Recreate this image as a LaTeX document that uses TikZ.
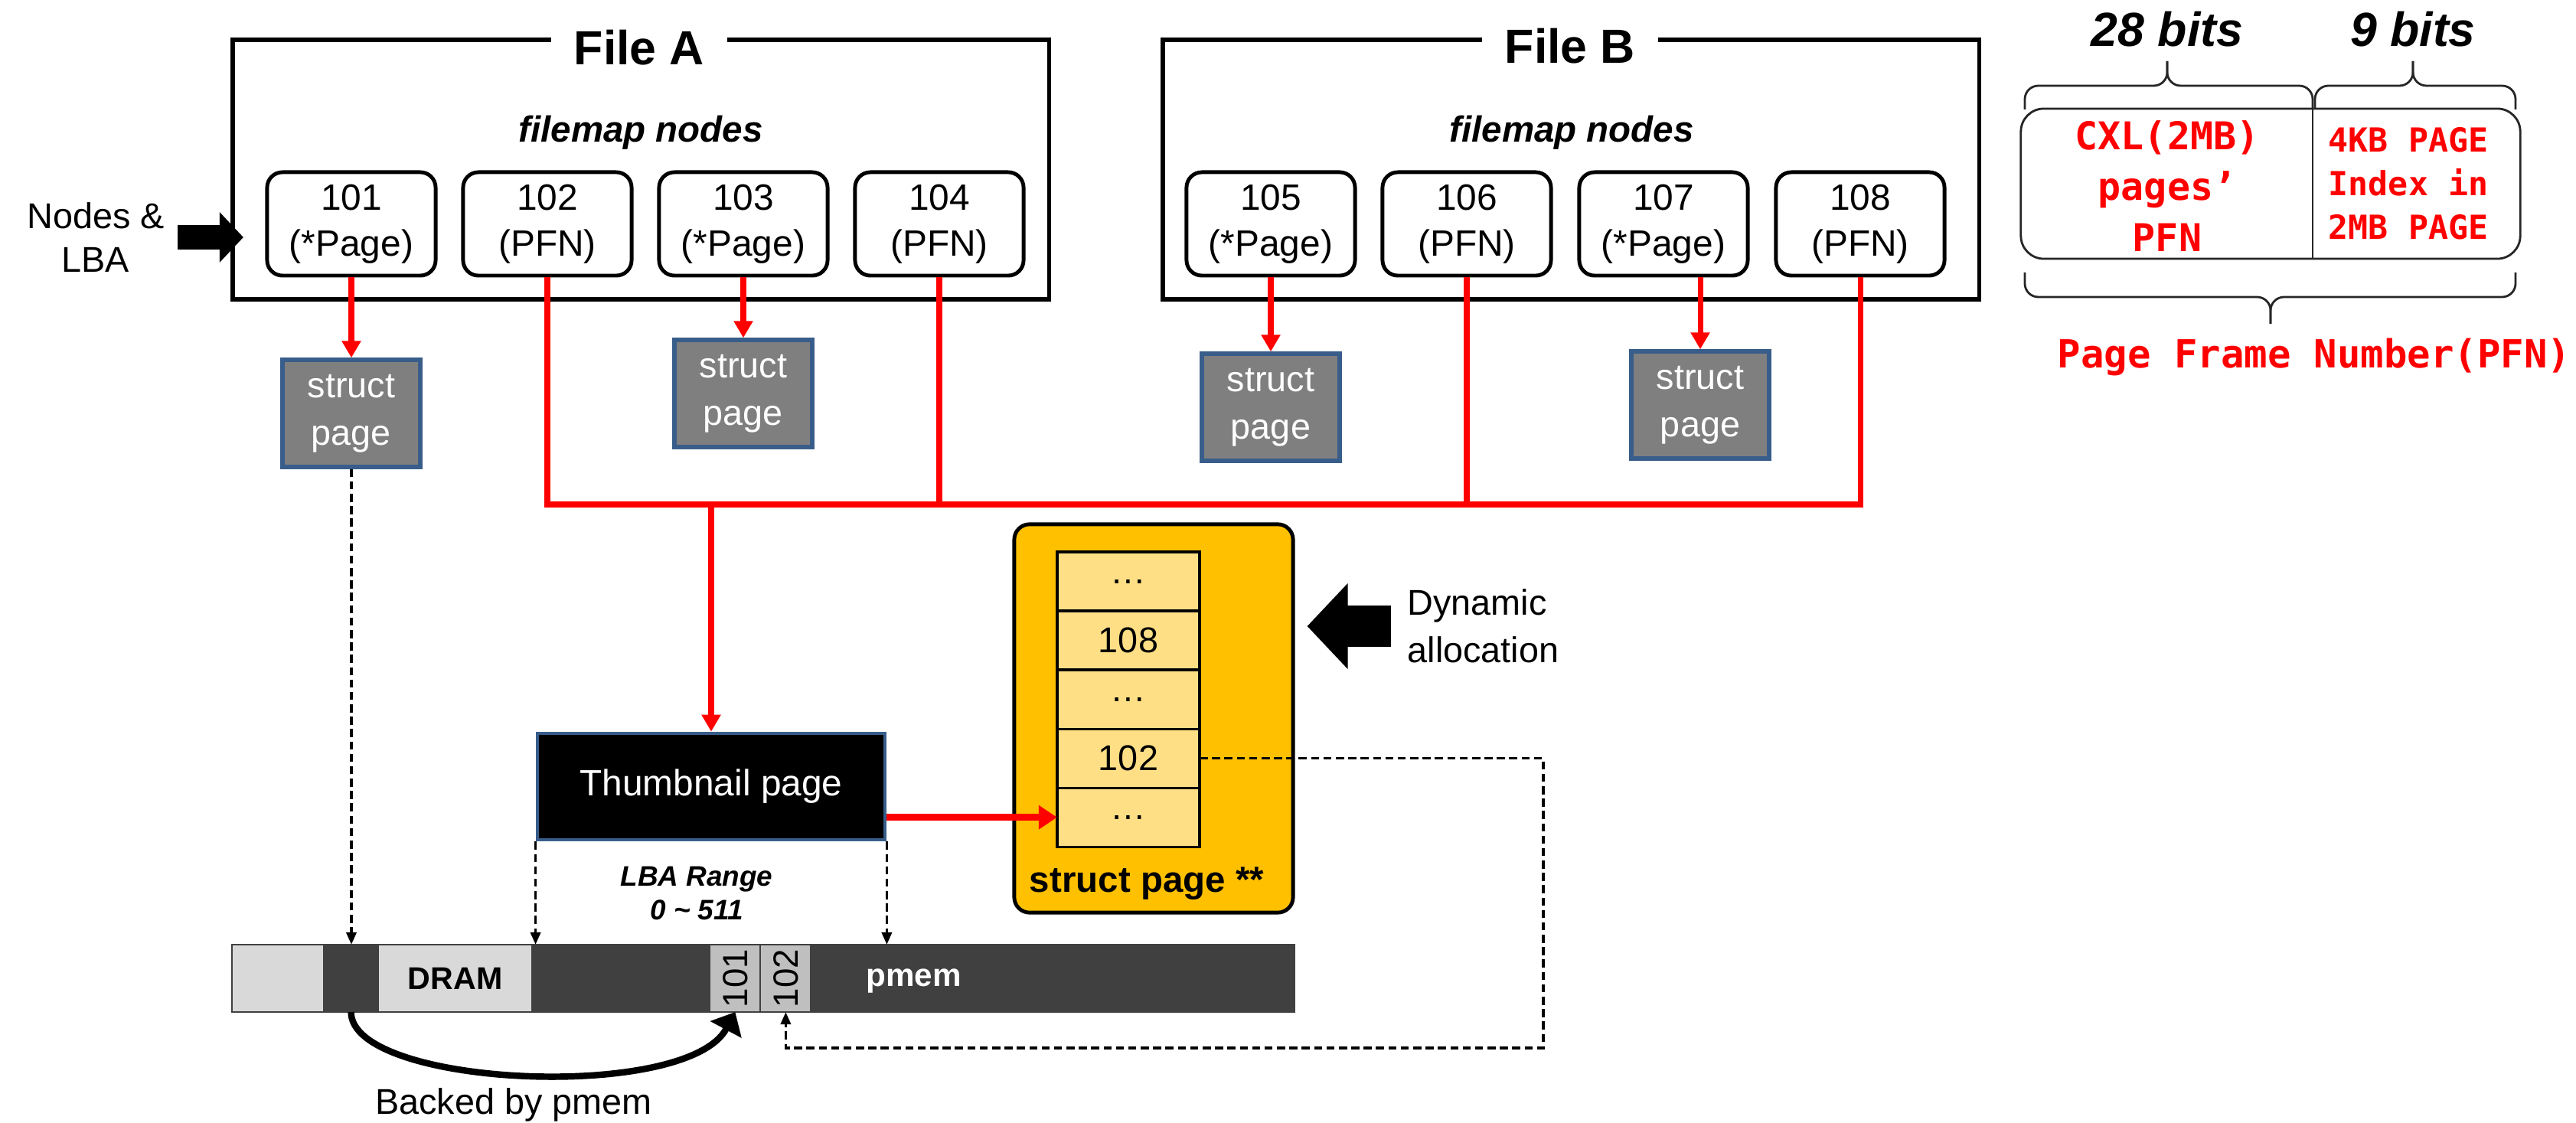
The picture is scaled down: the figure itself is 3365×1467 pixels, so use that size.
\documentclass[tikz,border=0pt]{standalone}
\usepackage{fontspec}
\setmainfont{Liberation Sans}
\setmonofont{DejaVu Sans Mono}
\usetikzlibrary{arrows.meta,positioning,calc}

\begin{document}
\begin{tikzpicture}[x=0.01cm, y=-0.01cm, font=\fontsize{13.3}{17.6}\selectfont,
  filebox/.style={draw=black, line width=1.6pt, minimum width=10.66cm, minimum height=3.39cm, inner sep=0pt},
  ftitle/.style={fill=white, font=\fontsize{17.8}{20}\selectfont\bfseries, inner xsep=0.3cm, inner ysep=0pt},
  fmap/.style={font=\fontsize{13.5}{16}\selectfont\bfseries\itshape},
  fnode/.style={draw=black, line width=1.4pt, rounded corners=0.2cm, fill=white, minimum width=2.2cm, minimum height=1.35cm, align=center, inner sep=0pt, font=\fontsize{13.6}{17}\selectfont},
  spage/.style={draw=zBlu, fill=zGry, line width=1.5pt, text=white, minimum width=1.8cm, minimum height=1.4cm, align=center, inner sep=0pt},
  redln/.style={draw=red, line width=2pt},
  redarr/.style={redln, -{Triangle[length=0.22cm,width=0.24cm]}},
  dasharr/.style={draw=black, line width=1pt, dash pattern=on 3pt off 1.6pt, -{Triangle[length=0.16cm,width=0.13cm]}},
  barseg/.style={draw=black!75, line width=0.6pt, minimum height=0.88cm, inner sep=0pt, outer sep=0pt},
  slotbox/.style={draw=black, line width=0.9pt, fill=zRow, minimum width=1.86cm, minimum height=0.77cm, inner sep=0pt, outer sep=0pt},
  brc/.style={draw=black!85, line width=0.8pt, rounded corners=5pt},
  bits/.style={font=\fontsize{17.8}{20}\selectfont\bfseries\itshape},
]
\definecolor{zGry}{HTML}{7F7F7F}\definecolor{zBlu}{HTML}{385D8A}
\definecolor{zYel}{HTML}{FFC000}\definecolor{zRow}{HTML}{FFDF85}
\definecolor{zDrk}{HTML}{404040}\definecolor{zLgt}{HTML}{D9D9D9}\definecolor{zMid}{HTML}{BFBFBF}
\useasboundingbox (0,0) rectangle (3365,1467);
% ---- file A ----
\node[filebox] (fileA) at (837,221.5) {};
\node[ftitle] (titleA) at (835,62) {File A};
\node[fmap] (mapA) at (837,173) {filemap nodes};
\node[fnode] (n101) at (459,292.5) {101\\(*Page)};
\node[fnode] (n102) at (715,292.5) {102\\(PFN)};
\node[fnode] (n103) at (971,292.5) {103\\(*Page)};
\node[fnode] (n104) at (1227,292.5) {104\\(PFN)};
\node[align=center, font=\fontsize{13.3}{16.2}\selectfont] (nlba) at (125,310) {Nodes \&\\LBA};
\draw[line width=0.31cm, -{Triangle[length=0.31cm,width=0.64cm]}] ([xshift=0.05cm]nlba.east) -- ($(fileA.west |- nlba)+(17,0)$);
% ---- file B ----
\node[filebox] (fileB) at (2052,221.5) {};
\node[ftitle] (titleB) at (2051,60) {File B};
\node[fmap] (mapB) at (2053,173) {filemap nodes};
\node[fnode] (n105) at (1660,292.5) {105\\(*Page)};
\node[fnode] (n106) at (1916,292.5) {106\\(PFN)};
\node[fnode] (n107) at (2173,292.5) {107\\(*Page)};
\node[fnode] (n108) at (2430,292.5) {108\\(PFN)};
% struct pages
\node[spage] (s101) at (459,540) {struct\\page};
\node[spage] (s103) at (971,514) {struct\\page};
\node[spage] (s105) at (1660,532) {struct\\page};
\node[spage] (s107) at (2221,529) {struct\\page};
\draw[redarr] (n101.south) -- (s101.north);
\draw[redarr] (n103.south) -- (s103.north);
\draw[redarr] (n105.south) -- (s105.north);
\draw[redarr] (s107.north |- n107.south) -- (s107.north);
% ---- PFN bus ----
\node[draw=zBlu, fill=black, line width=1.3pt, text=white, minimum width=4.54cm, minimum height=1.39cm, inner sep=0pt, font=\fontsize{13.6}{16}\selectfont] (thumb) at (929,1027.5) {Thumbnail page};
\coordinate (bus) at (929,659);
\draw[redln] (n102.south) |- (n108.south |- bus) -- (n108.south);
\draw[redln] (n104.south) -- (n104.south |- bus);
\draw[redln] (n106.south) -- (n106.south |- bus);
\draw[redarr] (bus) -- (thumb.north);
% ---- struct page pool ----
\node[draw=black, line width=1.4pt, fill=zYel, rounded corners=0.2cm, minimum width=3.64cm, minimum height=5.07cm] (pool) at (1507,938.5) {};
\node[slotbox] (r1) at (1474,759.5) {\ldots};
\node[slotbox, below=0pt of r1] (r2) {108};
\node[slotbox, below=0pt of r2] (r3) {\ldots};
\node[slotbox, below=0pt of r3] (r4) {102};
\node[slotbox, below=0pt of r4] (r5) {\ldots};
\node[font=\fontsize{13.5}{16}\selectfont\bfseries] (poolname) at (1498,1154) {struct page **};
\node[anchor=west, align=left, inner sep=0pt] (dyn) at (1838,818) {Dynamic\\allocation};
\draw[line width=0.53cm, -{Triangle[length=0.53cm,width=1.09cm]}] ([xshift=-0.21cm]dyn.west) -- ($(pool.east |- dyn.west)+(16,0)$);
\draw[draw=red, line width=2.4pt, -{Triangle[length=0.24cm,width=0.3cm]}] (thumb.east |- r5.west) -- (r5.west);
% ---- memory bar ----
\node[barseg, fill=zLgt, minimum width=1.2cm, anchor=west] (b0) at (303,1278) {};
\node[barseg, fill=zDrk, minimum width=0.71cm, right=0pt of b0] (b1) {};
\node[barseg, fill=zLgt, minimum width=2.01cm, right=0pt of b1, font=\fontsize{11.7}{14}\selectfont\bfseries] (b2) {DRAM};
\node[barseg, fill=zDrk, minimum width=2.32cm, right=0pt of b2] (b3) {};
\node[barseg, fill=zMid, minimum width=0.66cm, right=0pt of b3] (b4) {};
\node[barseg, fill=zMid, minimum width=0.66cm, right=0pt of b4] (b5) {};
\node[barseg, fill=zDrk, minimum width=6.31cm, right=0pt of b5] (b6) {};
\node[rotate=90, font=\fontsize{13}{15}\selectfont] (t101) at (b4) {101};
\node[rotate=90, font=\fontsize{13}{15}\selectfont] (t102) at (b5) {102};
\node[text=white, font=\fontsize{12}{14}\selectfont\bfseries] (pmem) at ($(b6.west)+(134,3)$) {pmem};
\node[align=center, font=\fontsize{10.5}{12.5}\selectfont\bfseries\itshape] (lba) at (910,1167) {LBA Range\\0 \textasciitilde{} 511};
\draw[dasharr] (s101.south) -- (s101.south |- b1.north);
\draw[dasharr] (thumb.south west) -- (thumb.south west |- b3.north);
\draw[dasharr] (thumb.south east) -- (thumb.south east |- b6.north);
\coordinate (dcorner) at (2016,1369);
\draw[dasharr] (r4.east) -| (dcorner) -| (b5.south);
\draw[line width=2.4pt, -{Triangle[length=0.26cm,width=0.45cm]}] (b1.south) .. controls +(0,98) and +(-63,118) .. (b4.south);
\node (backed) at (671,1443) {Backed by pmem};
% ---- PFN layout ----
\node[bits] (bits28) at (2831,38) {28 bits};
\node[bits] (bits9) at (3152,38) {9 bits};
\node[draw=black!85, line width=0.8pt, rounded corners=0.3cm, minimum width=6.52cm, minimum height=1.96cm] (pfnbox) at (2966,240) {};
\coordinate (split) at (3021,240);
\draw[draw=black!85, line width=0.8pt] (split |- pfnbox.north) -- (split |- pfnbox.south);
\node[text=red, align=center, font=\fontsize{14.2}{19}\selectfont\ttfamily\bfseries] (hibits) at (2831,243) {CXL(2MB)\\pages’\\PFN};
\node[text=red, align=center, font=\fontsize{12.3}{16.2}\selectfont\ttfamily\bfseries] (lobits) at (3146,240) {4KB PAGE\\Index in\\2MB PAGE};
\draw[brc] (2645,143) -- (2645,112) -- (2831,112) -- (2831,80);
\draw[brc] (3021,143) -- (3021,112) -- (2831,112) -- (2831,80);
\draw[brc] (3024,143) -- (3024,112) -- (3152,112) -- (3152,80);
\draw[brc] (3286,143) -- (3286,112) -- (3152,112) -- (3152,80);
\draw[brc] (2645,356) -- (2645,388) -- (2966,388) -- (2966,423);
\draw[brc] (3286,356) -- (3286,388) -- (2966,388) -- (2966,423);
\node[text=red, font=\fontsize{14.4}{17}\selectfont\ttfamily\bfseries] (pfnname) at (3023,467) {Page Frame Number(PFN)};
\end{tikzpicture}
\end{document}
